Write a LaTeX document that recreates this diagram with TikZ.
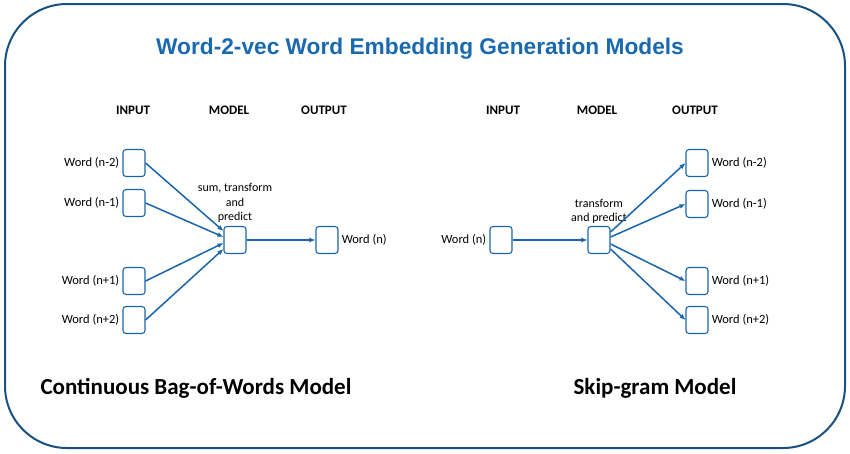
\documentclass[tikz,border=0pt]{standalone}
\usepackage{fontspec}
\setmainfont{Carlito}
\newfontfamily\titlefont{Liberation Sans}
\usetikzlibrary{arrows.meta, positioning}
\definecolor{titleblue}{RGB}{25,105,175}
\definecolor{frameblue}{RGB}{25,80,130}
\definecolor{linkblue}{RGB}{25,100,170}
\tikzset{
  wordbox/.style={draw=linkblue, rounded corners=3pt, line width=1.1pt,
    minimum width=22pt, minimum height=27pt, inner sep=0pt},
  hdr/.style={font=\bfseries\fontsize{13}{15}\selectfont},
  lbl/.style={font=\fontsize{12.5}{14}\selectfont, inner sep=1pt},
  caption/.style={font=\bfseries\fontsize{23}{27}\selectfont},
  arrow/.style={-{Latex[length=6pt, width=5pt]}, line width=1.5pt, draw=linkblue}
}

\begin{document}
\begin{tikzpicture}[x=1pt, y=-1pt]
  \useasboundingbox (0,0) rectangle (850,453);
  \draw[frameblue, line width=2pt, rounded corners=62pt] (5,4) rectangle (845,448);
  \node[font=\titlefont\bfseries\fontsize{22.7}{26}\selectfont, text=titleblue] (title) at (420,49)
    {Word-2-vec Word Embedding Generation Models};

  % CBOW
  \node[hdr] (cin) at (133,110) {INPUT};
  \node[hdr] (cmod) at (229,110) {MODEL};
  \node[hdr] (cout) at (324,110) {OUTPUT};
  \node[wordbox] (cw1) at (134,163) {};
  \node[wordbox] (cw2) at (134,203) {};
  \node[wordbox] (cw3) at (134,281) {};
  \node[wordbox] (cw4) at (134,320) {};
  \node[wordbox] (cm) at (235,240) {};
  \node[wordbox] (co) at (327,240) {};
  \node[lbl, left=2pt of cw1] {Word (n-2)};
  \node[lbl, left=2pt of cw2] {Word (n-1)};
  \node[lbl, left=2pt of cw3] {Word (n+1)};
  \node[lbl, left=2pt of cw4] {Word (n+2)};
  \node[lbl, right=2pt of co] {Word (n)};
  \node[lbl, align=center, above=2pt of cm, font=\fontsize{12}{14.5}\selectfont] {sum, transform\\and\\predict};
  \draw[arrow] (cw1.east) -- ([yshift=9pt]cm.west);
  \draw[arrow] (cw2.east) -- ([yshift=3pt]cm.west);
  \draw[arrow] (cw3.east) -- ([yshift=-3pt]cm.west);
  \draw[arrow] (cw4.east) -- ([yshift=-9pt]cm.west);
  \draw[arrow] (cm) -- (co);
  \node[caption, anchor=west] (cbow) at (37,388) {Continuous Bag-of-Words Model};

  % Skip-gram
  \node[hdr] (sin) at (503,110) {INPUT};
  \node[hdr] (smod) at (597,110) {MODEL};
  \node[hdr] (sout) at (695,110) {OUTPUT};
  \node[wordbox] (si) at (501,240) {};
  \node[wordbox] (sm) at (599,240) {};
  \node[wordbox] (so1) at (697,163) {};
  \node[wordbox] (so2) at (697,204) {};
  \node[wordbox] (so3) at (697,281) {};
  \node[wordbox] (so4) at (697,320) {};
  \node[lbl, left=2pt of si] {Word (n)};
  \node[lbl, right=2pt of so1] {Word (n-2)};
  \node[lbl, right=2pt of so2] {Word (n-1)};
  \node[lbl, right=2pt of so3] {Word (n+1)};
  \node[lbl, right=2pt of so4] {Word (n+2)};
  \node[lbl, align=center, above=1pt of sm, font=\fontsize{12}{14.5}\selectfont] {transform\\and predict};
  \draw[arrow] (si) -- (sm);
  \draw[arrow] ([yshift=8pt]sm.east) -- (so1.west);
  \draw[arrow] ([yshift=3pt]sm.east) -- (so2.west);
  \draw[arrow] ([yshift=-4pt]sm.east) -- (so3.west);
  \draw[arrow] ([yshift=-9pt]sm.east) -- (so4.west);
  \node[caption] (skip) at (655,388) {Skip-gram Model};
\end{tikzpicture}
\end{document}
